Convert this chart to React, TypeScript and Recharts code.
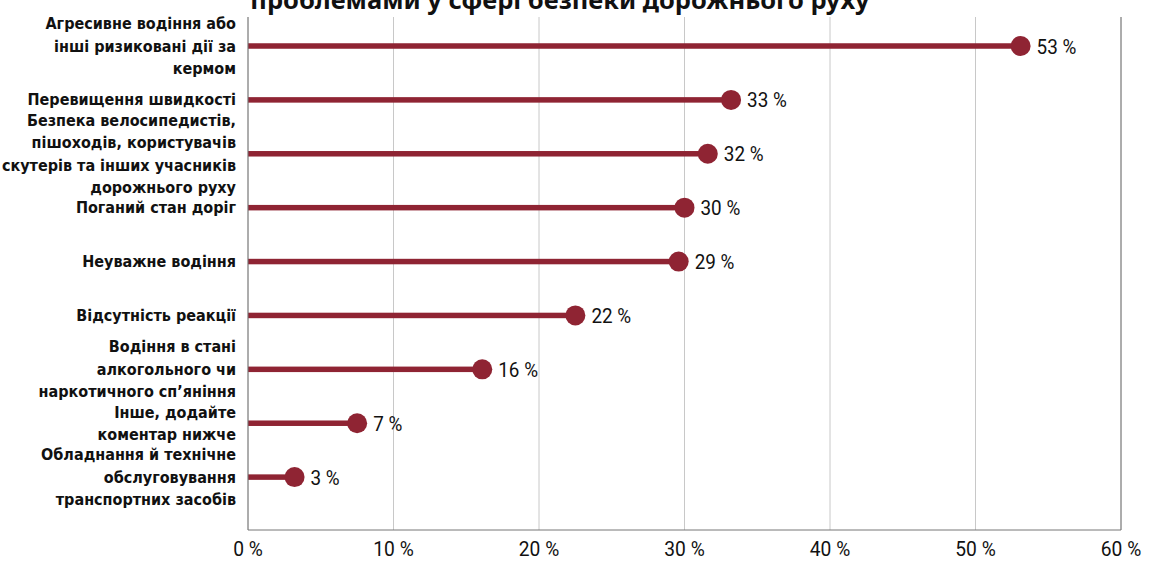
import React from 'react';
import { ComposedChart, Bar, XAxis, YAxis, CartesianGrid, LabelList, ReferenceLine } from 'recharts';

document.body.style.margin = '0';

// категорії (рядки підписів розділені \n)
const categories = [
  'Агресивне водіння або\nінші ризиковані дії за\nкермом',
  'Перевищення швидкості',
  'Безпека велосипедистів,\nпішоходів, користувачів\nскутерів та інших учасників\nдорожнього руху',
  'Поганий стан доріг',
  'Неуважне водіння',
  'Відсутність реакції',
  'Водіння в стані\nалкогольного чи\nнаркотичного сп’яніння',
  'Інше, додайте\nкоментар нижче',
  'Обладнання й технічне\nобслуговування\nтранспортних засобів',
];
const values = [53.1, 33.2, 31.6, 30.0, 29.6, 22.5, 16.1, 7.5, 3.2];
const valueLabels = ['53 %', '33 %', '32 %', '30 %', '29 %', '22 %', '16 %', '7 %', '3 %'];
const xTicks = [0, 10, 20, 30, 40, 50, 60];
const title = 'проблемами у сфері безпеки дорожнього руху';

const data = categories.map((c, i) => ({ name: c, value: values[i], label: valueLabels[i] }));

const RED = '#8f2433';
const LABEL_FONT = "'DejaVu Sans Condensed', 'DejaVu Sans', sans-serif";
const NUM_FONT = "Roboto, sans-serif";

const CategoryTick = ({ x, y, payload }: any) => {
  const lines = String(payload.value).split('\n');
  const lh = 22.5;
  const start = -((lines.length - 1) * lh) / 2;
  return (
    <text x={x - 4} y={y} textAnchor="end" fill="#111" fontFamily={LABEL_FONT} fontWeight="bold" fontSize={16}>
      {lines.map((l, i) => (
        <tspan key={i} x={x - 4} y={y + start + i * lh} dy="0.35em">{l}</tspan>
      ))}
    </text>
  );
};

// вузький (condensed) цифровий шрифт
const NumTick = ({ x, y, payload }: any) => (
  <text
    transform={`translate(${x},${y}) scale(0.96,1)`}
    textAnchor="middle"
    dy="0.71em"
    fill="#111"
    fontFamily={NUM_FONT}
    fontSize={20}
  >
    {`${payload.value} %`}
  </text>
);

const ValueLabel = (props: any) => {
  const { x, y, width, height, value } = props;
  const tx = x + width + 16;
  const ty = y + height / 2;
  return (
    <text
      transform={`translate(${tx},${ty}) scale(0.9,1)`}
      dy="0.36em"
      fill="#111"
      fontFamily={NUM_FONT}
      fontSize={21}
    >
      {value}
    </text>
  );
};

const Lollipop = (props: any) => {
  const { x, y, width, height } = props;
  const cy = y + height / 2;
  return (
    <g>
      <rect x={x} y={cy - 2.75} width={width} height={5.5} fill={RED} />
      <circle cx={x + width} cy={cy} r={10} fill={RED} />
    </g>
  );
};

const App: React.FC = () => {
  return (
    <div style={{ position: 'relative', width: 1149, height: 562, overflow: 'hidden', background: '#fff' }}>
      <div style={{
        position: 'absolute', left: 0, top: -15, width: 1120, textAlign: 'center',
        fontFamily: "'Noto Sans', sans-serif", fontWeight: 'bold', fontSize: 25.5, lineHeight: '28px', color: '#111',
      }}>
        {title}
      </div>
      <ComposedChart
        width={1149}
        height={562}
        data={data}
        layout="vertical"
        margin={{ top: 17, right: 28, left: 0, bottom: 0 }}
      >
        <CartesianGrid horizontal={false} stroke="#c8c8c8" />
        <XAxis
          type="number"
          domain={[0, 60]}
          ticks={xTicks}
          height={32}
          axisLine={{ stroke: '#777' }}
          tickLine={false}
          tick={<NumTick />}
          tickMargin={6}
        />
        <YAxis
          type="category"
          dataKey="name"
          width={248}
          axisLine={{ stroke: '#777' }}
          tickLine={false}
          interval={0}
          padding={{ top: 2, bottom: 26 }}
          tick={<CategoryTick />}
        />
        <ReferenceLine x={60} stroke="#777" />
        <Bar dataKey="value" barSize={6} shape={<Lollipop />} isAnimationActive={false}>
          <LabelList dataKey="label" content={<ValueLabel />} />
        </Bar>
      </ComposedChart>
    </div>
  );
};

export default App;
